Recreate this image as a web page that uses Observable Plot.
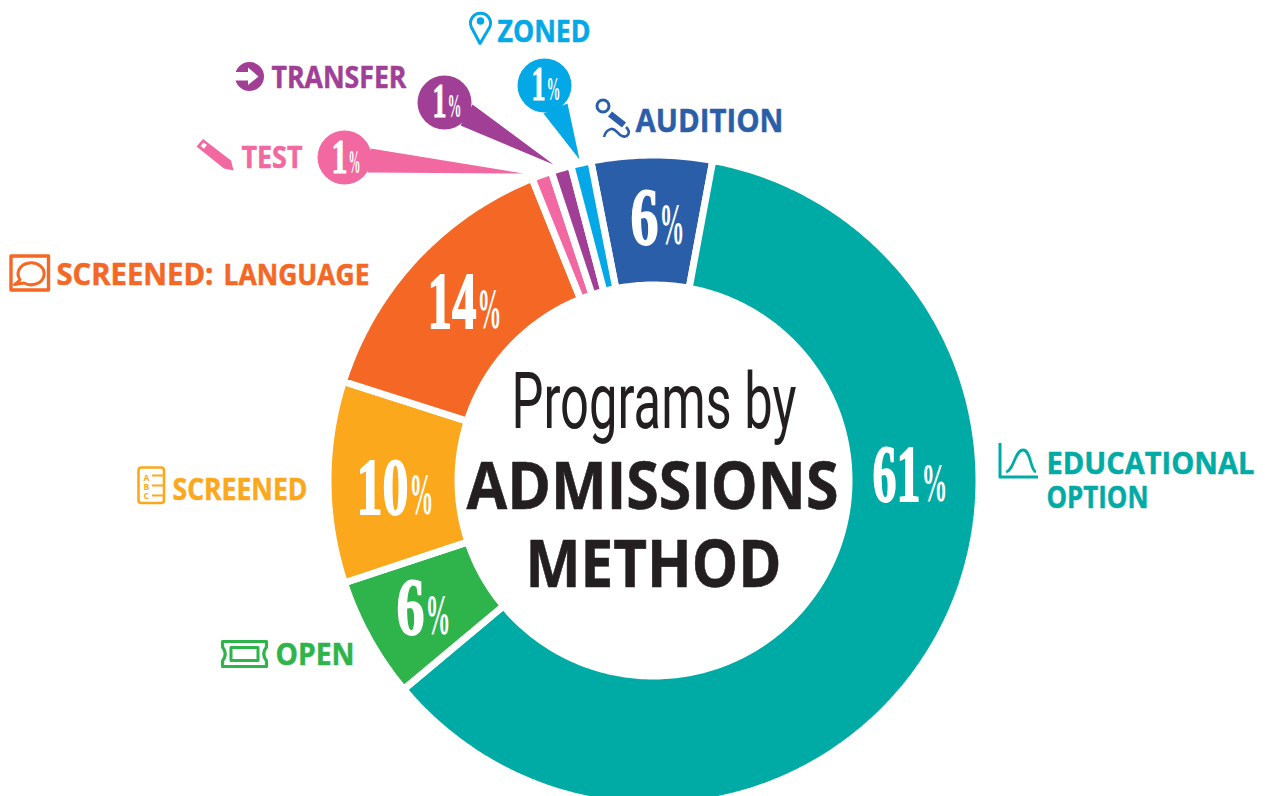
<!DOCTYPE html>
<html>
<head>
<meta charset="utf-8">
<style>html,body{margin:0;padding:0;background:#fff;overflow:hidden}svg{display:block}</style>
<script src="https://cdn.jsdelivr.net/npm/d3@7"></script>
<script src="https://cdn.jsdelivr.net/npm/@observablehq/plot@0.6"></script>
</head>
<body>
<div id="chart"></div>
<script>
// Data
const categories = ["Audition","Educational Option","Open","Screened","Screened: Language","Test","Transfer","Zoned"];
const shares = [6,61,6,10,14,1,1,1];
const colors = ["#2b5ea9","#00aba5","#2fb44c","#fba81c","#f56724","#f268a0","#a03f95","#04a8e6"];

// Layout of the ring
const cx = 653, cy = 480, rInner = 199, rOuter = 322, gap = 7, startAngle = 348.9;
const pt = (deg, r) => {const a = deg * Math.PI / 180; return {x: cx + r * Math.sin(a), y: cy - r * Math.cos(a)};};
let acc = startAngle;
const ring = categories.flatMap((cat, i) => {
  const a0 = acc, a1 = acc + shares[i] * 3.6; acc = a1;
  const n = Math.ceil(a1 - a0) + 1;
  const ts = d3.range(n + 1).map(k => a0 + (a1 - a0) * k / n);
  return [...ts.map(t => pt(t, rOuter + gap / 2)), ...ts.reverse().map(t => pt(t, rInner - gap / 2))].map(p => ({...p, cat}));
});

// Layout of the percentage labels (x0,x1 digits; x2,x3 percent sign; baseline, heights)
const pctPlace = [
  [630,658,659,684,243,53,40],
  [872,920,921,947,500,52,37],
  [396,424,425,450,633,53,39],
  [356,408,409,433,513,53,40],
  [427,476,477,501,327,52,39],
  [331,347,348,360,172,32,23],
  [432,446,447,461,116,32,23],
  [531,545,546,560,99,32,23]
];
const digitRows = pctPlace.map((p, i) => ({text: String(shares[i]), x: p[0], w: p[1]-p[0], base: p[4], fs: p[5]/0.655, sw: p[5] > 40 ? 1.8 : 1.1}));
const signRows = pctPlace.map((p) => ({text: "%", x: p[2], w: p[3]-p[2], base: p[4], fs: p[6]/0.68}));

// Callouts for the three thin slices
const callouts = [
  {cat:"Test", x:344, y:157, tail:[[370,148],[523,173],[367,172]]},
  {cat:"Transfer", x:444, y:102, tail:[[472,104],[553,164],[460,125]]},
  {cat:"Zoned", x:544, y:85, tail:[[567,103],[579,159],[543,113]]}
];
const tails = callouts.flatMap(c => c.tail.map(([x,y]) => ({x,y,cat:c.cat})));

// Category labels
const labelRows = [
  {text:"ZONED", cat:"Zoned", x:497, w:93, base:41, fs:30},
  {text:"TRANSFER", cat:"Transfer", x:271, w:135, base:87, fs:30},
  {text:"TEST", cat:"Test", x:241, w:61, base:167, fs:30},
  {text:"AUDITION", cat:"Audition", x:635, w:148, base:131, fs:33},
  {text:"SCREENED:", cat:"Screened: Language", x:56, w:157, base:284, fs:30},
  {text:"LANGUAGE", cat:"Screened: Language", x:223, w:146, base:284, fs:28},
  {text:"SCREENED", cat:"Screened", x:172, w:135, base:499, fs:30},
  {text:"OPEN", cat:"Open", x:275, w:79, base:664, fs:31},
  {text:"EDUCATIONAL", cat:"Educational Option", x:1046, w:208, base:473, fs:31},
  {text:"OPTION", cat:"Educational Option", x:1046, w:102, base:507, fs:31}
];
const abcRows = ["A","B","C"].map((t,i) => ({text:t, cat:"Screened", x:143, base:[480,489,498][i], fs:8.5}));
const titleLight = [{text:"Programs by", x:511, w:285, base:427, fs:78}];
const titleBold = [
  {text:"ADMISSIONS", x:466, w:372, base:508, fs:66},
  {text:"METHOD", x:525, w:256, base:586, fs:66}
];

// Icons
const iconPaths = [
  {cat:"Zoned", stroke:3, d:"M480 43.5L471.5 27.5A10 10 0 1 1 489.5 27.5Z"},
  {cat:"Zoned", fill:true, d:"M484.3 21a3.8 3.8 0 1 1-7.6 0a3.8 3.8 0 1 1 7.6 0Z"},
  {cat:"Transfer", fill:true, d:"M264 76.5a14.5 14.5 0 1 1-29 0a14.5 14.5 0 1 1 29 0Z"},
  {white:true, d:"M233 72H248V67.5L258.5 76.5L248 85V80.5H233Z"},
  {cat:"Test", fill:true, d:"M203 139L196.5 146.5L224 168.5L233.5 170.5L231 160.5Z"},
  {white:true, d:"M203.5 142.5L200.5 146L204 148.7L207 145Z"},
  {cat:"Screened: Language", stroke:3.4, d:"M11 256H48.5V290H11Z"},
  {cat:"Screened: Language", stroke:3, d:"M20 279.5A13 11 0 1 1 24 283L14.5 284.5Q18.5 282 20 279.5Z"},
  {cat:"Screened", stroke:2.6, d:"M141.5 467.5H161Q164 467.5 164 470.5V500Q164 503 161 503H141.5Q138.5 503 138.5 500V470.5Q138.5 467.5 141.5 467.5Z"},
  {cat:"Screened", stroke:2, d:"M152 475.5H164M152 485.5H164M152 495.5H164"},
  {cat:"Open", stroke:3.2, d:"M222.5 641.5H266.5V647Q261 654 266.5 661V666.5H222.5V661Q228 654 222.5 647Z"},
  {cat:"Open", stroke:3, d:"M231 647.5H258V660.5H231Z"},
  {cat:"Educational Option", stroke:3, d:"M1000 443V477H1038"},
  {cat:"Educational Option", stroke:2.8, d:"M1006 472C1014 470 1015 450 1023 450C1031 450 1030 470 1036 472"},
  {cat:"Audition", stroke:3, d:"M609 106a6 6 0 1 1-12 0a6 6 0 1 1 12 0Z"},
  {cat:"Audition", stroke:6.5, d:"M610 114L624 125"},
  {cat:"Audition", stroke:2.6, d:"M626 127C632 133 627 138 622 136C617 134 616 128 611 129C607 130 605 133 604 137"}
];
const colorOf = cat => colors[categories.indexOf(cat)];
const iconMark = () => {
  const g = d3.create("svg:g");
  for (const p of iconPaths) {
    const c = p.white ? "#fff" : colorOf(p.cat);
    const isFill = p.fill || p.white;
    g.append("path").attr("d", p.d).attr("fill", isFill ? c : "none")
      .attr("stroke", isFill ? "none" : c).attr("stroke-width", p.stroke || 0)
      .attr("stroke-linecap","butt").attr("stroke-linejoin","round");
  }
  return g.node();
};

// Text mark with a fixed start and baseline; the target width is squeezed in once it is on the page
const fit = (rows) => function(index, scales, values, dims, context, next) {
  const g = next(index, scales, values, dims, context);
  g.querySelectorAll("text").forEach((t, i) => {
    const r = rows[index[i]];
    t.__w = r.w;
    if (r.sw) { t.setAttribute("stroke", "#fff"); t.setAttribute("stroke-width", r.sw); }
  });
  return g;
};
const textMark = (rows, opts) => Plot.text(rows, {
  x: "x", y: d => d.base - 0.32 * d.fs, text: "text", fontSize: "fs",
  textAnchor: "start", lineAnchor: "middle", render: fit(rows), ...opts
});

const chart = Plot.plot({
  width: 1266, height: 796, margin: 0,
  style: {background: "#fff"},
  x: {domain: [0, 1266], range: [0, 1266], axis: null},
  y: {domain: [0, 796], range: [0, 796], axis: null},
  color: {domain: categories, range: colors},
  marks: [
    Plot.line(ring, {x:"x", y:"y", z:"cat", fill:"cat", stroke:"#fff", strokeWidth:gap, curve:"linear-closed", strokeLinejoin:"miter"}),
    Plot.line(tails, {x:"x", y:"y", z:"cat", fill:"cat", stroke:null, curve:"linear-closed"}),
    Plot.dot(callouts, {x:"x", y:"y", r:27, fill:"cat", stroke:null}),
    iconMark,
    textMark(digitRows, {fill:"#fff", fontFamily:"Liberation Serif", fontWeight:700}),
    textMark(signRows, {fill:"#fff", fontFamily:"Liberation Sans Narrow", fontWeight:700}),
    textMark(labelRows, {fill:"cat", stroke:"cat", strokeWidth:0.5, fontFamily:"Open Sans", fontWeight:700}),
    textMark(abcRows, {fill:"cat", fontFamily:"Open Sans", fontWeight:700}),
    textMark(titleLight, {fill:"#231f20", fontFamily:"Roboto", fontWeight:400}),
    textMark(titleBold, {fill:"#231f20", stroke:"#231f20", strokeWidth:0.6, fontFamily:"Open Sans", fontWeight:700})
  ]
});
document.getElementById("chart").append(chart);

// Horizontal squeeze about each text's own start, so every box is its true size
chart.querySelectorAll("text").forEach(t => {
  if (!t.__w) return;
  const sx = t.__w / t.getComputedTextLength();
  const x = +(t.getAttribute("x") || 0);
  const base = t.getAttribute("transform") || "";
  t.setAttribute("transform", `${base} translate(${x},0) scale(${sx},1) translate(${-x},0)`);
});
</script>
</body>
</html>
